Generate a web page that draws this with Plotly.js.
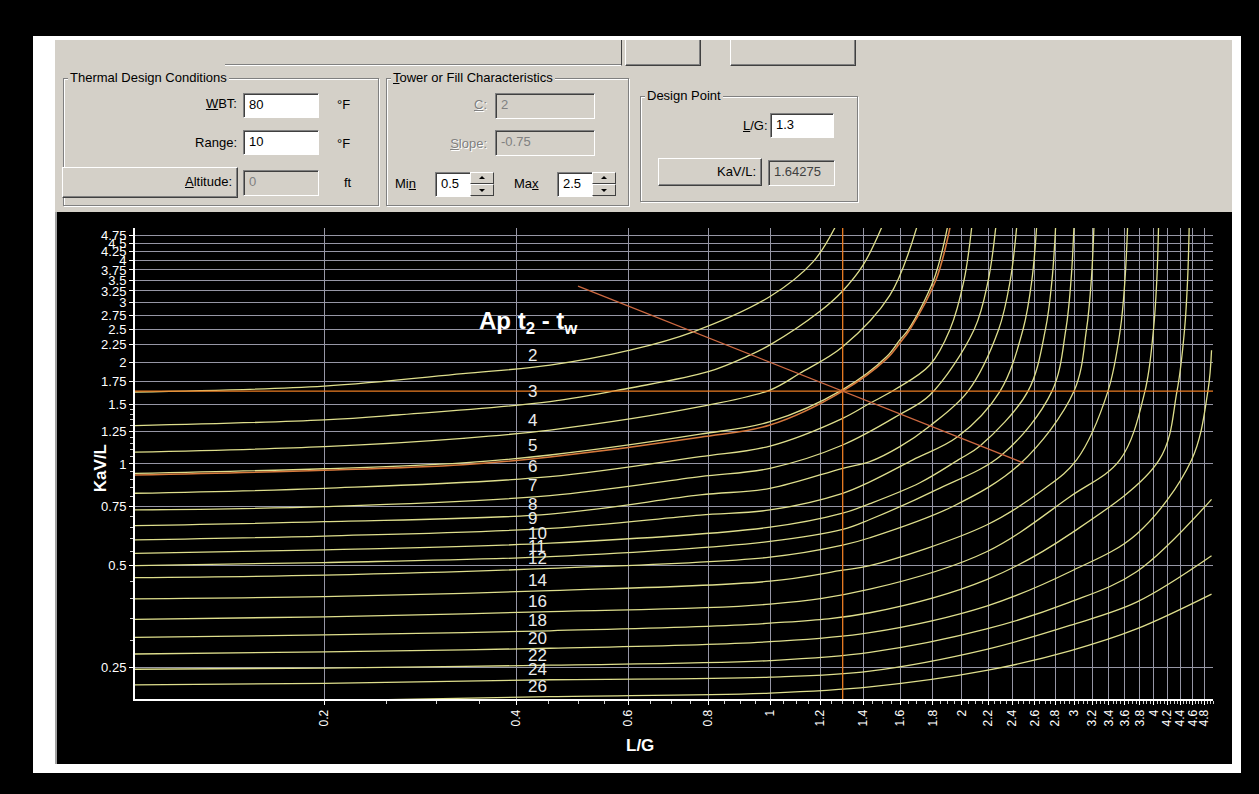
<!DOCTYPE html>
<html>
<head>
<meta charset="utf-8">
<script src="https://cdn.plot.ly/plotly-3.0.1.min.js"></script>
<style>
  html, body { margin:0; padding:0; background:#000; }
  body { width:1259px; height:794px; overflow:hidden; position:relative; font-family:"Liberation Sans", Arial, sans-serif; font-size:13px; }
  .abs { position:absolute; }
  #frame { left:33px; top:36px; width:1208px; height:737px; background:#fff; }
  #panel { left:55px; top:40px; width:1177px; height:172px; background:#d4d0c8; overflow:hidden; }
  #chartwrap { left:55px; top:212px; width:1177px; height:552px; background:#000; border-left:2px solid #a0a0a0; box-sizing:border-box; }
  #chart { left:57px; top:212px; width:1173px; height:550px; }
  .grp { position:absolute; border:1px solid #808080; box-shadow:1px 1px 0 #fff, inset 1px 1px 0 #fff; }
  .grp > .lg { position:absolute; top:-9px; left:4px; background:#d4d0c8; padding:0 2px; color:#000; white-space:nowrap; line-height:16px; }
  .lbl { position:absolute; color:#000; white-space:nowrap; line-height:16px; }
  .dis { color:#808080; text-shadow:1px 1px 0 #fff; }
  .edit { position:absolute; background:#fff; border:1px solid; border-color:#808080 #fff #fff #808080; box-shadow:inset 1px 1px 0 #404040; box-sizing:border-box; padding:3px 0 0 5px; line-height:16px; color:#000; }
  .edit.off { background:#d4d0c8; color:#808080; }
  .btn { position:absolute; background:#d4d0c8; border:1px solid; border-color:#fff #404040 #404040 #fff; box-shadow:inset -1px -1px 0 #808080; box-sizing:border-box; color:#000; line-height:16px; }
  .spin { position:absolute; width:24px; height:24px; }
  .spin .b { position:absolute; left:0; width:24px; height:12px; background:#d4d0c8; border:1px solid; border-color:#fff #404040 #404040 #fff; box-sizing:border-box; }
  .tri-up { position:absolute; left:8px; top:3px; width:0; height:0; border-left:3px solid transparent; border-right:3px solid transparent; border-bottom:3px solid #000; }
  .tri-dn { position:absolute; left:8px; top:4px; width:0; height:0; border-left:3px solid transparent; border-right:3px solid transparent; border-top:3px solid #000; }
  u { text-decoration:underline; }
</style>
</head>
<body>
<div id="frame" class="abs"></div>
<div id="panel" class="abs">
  <div class="abs" style="left:170px;top:-20px;width:396px;height:45px;border-bottom:1px solid #fff;border-right:1px solid #404040;box-shadow:inset 0 -1px 0 #808080;"></div>
  <div class="btn" style="left:570px;top:-20px;width:76px;height:46px;"></div>
  <div class="btn" style="left:675px;top:-20px;width:126px;height:46px;"></div>

  <div class="grp" style="left:8px;top:38px;width:314px;height:126px;"><span class="lg">Thermal Design Conditions</span></div>
  <div class="lbl" style="left:145px;top:56px;width:37px;text-align:right;"><u>W</u>BT:</div>
  <div class="edit" style="left:188px;top:53px;width:76px;height:25px;">80</div>
  <div class="lbl" style="left:282px;top:57px;">°F</div>
  <div class="lbl" style="left:120px;top:95px;width:62px;text-align:right;">Range:</div>
  <div class="edit" style="left:188px;top:90px;width:76px;height:25px;">10</div>
  <div class="lbl" style="left:282px;top:96px;">°F</div>
  <div class="btn" style="left:7px;top:127px;width:176px;height:31px;"><span style="position:absolute;right:5px;top:6px;"><u>A</u>ltitude:</span></div>
  <div class="edit off" style="left:188px;top:130px;width:76px;height:26px;">0</div>
  <div class="lbl" style="left:289px;top:135px;">ft</div>

  <div class="grp" style="left:331px;top:38px;width:241px;height:126px;"><span class="lg"><u>T</u>ower or Fill Characteristics</span></div>
  <div class="lbl dis" style="left:380px;top:57px;width:52px;text-align:right;"><u>C</u>:</div>
  <div class="edit off" style="left:440px;top:53px;width:100px;height:26px;">2</div>
  <div class="lbl dis" style="left:380px;top:96px;width:52px;text-align:right;"><u>S</u>lope:</div>
  <div class="edit off" style="left:440px;top:90px;width:100px;height:26px;">-0.75</div>
  <div class="lbl" style="left:340px;top:136px;">Mi<u>n</u></div>
  <div class="edit" style="left:380px;top:132px;width:36px;height:25px;">0.5</div>
  <div class="spin" style="left:415px;top:132px;"><div class="b" style="top:0"><div class="tri-up"></div></div><div class="b" style="top:12px"><div class="tri-dn"></div></div></div>
  <div class="lbl" style="left:459px;top:136px;">Ma<u>x</u></div>
  <div class="edit" style="left:502px;top:132px;width:36px;height:25px;">2.5</div>
  <div class="spin" style="left:537px;top:132px;"><div class="b" style="top:0"><div class="tri-up"></div></div><div class="b" style="top:12px"><div class="tri-dn"></div></div></div>

  <div class="grp" style="left:585px;top:56px;width:216px;height:104px;"><span class="lg">Design Point</span></div>
  <div class="lbl" style="left:688px;top:78px;"><u>L</u>/G:</div>
  <div class="edit" style="left:715px;top:73px;width:64px;height:25px;">1.3</div>
  <div class="btn" style="left:603px;top:118px;width:104px;height:28px;"><span style="position:absolute;right:5px;top:5px;">KaV/L:</span></div>
  <div class="edit off" style="left:713px;top:120px;width:67px;height:26px;color:#404040;">1.64275</div>
</div>
<div id="chartwrap" class="abs"></div>
<div id="chart" class="abs"></div>

<script>
// ---- Data (L/G vs KaV/L), one curve per approach ----
const approaches = ['2','3','4','5','6','7','8','9','10','11','12','14','16','18','20','22','24','26'];

const lg2  = [0.1, 0.2, 0.33, 0.452, 0.603, 0.758, 1.0, 1.169, 1.264];
const kv2  = [1.63, 1.70, 1.85, 1.96, 2.17, 2.46, 3.13, 3.97, 5.0];
const lg3  = [0.1, 0.2, 0.26, 0.452, 0.6, 0.8, 0.93, 1.0, 1.195, 1.3, 1.4, 1.496];
const kv3  = [1.298, 1.35, 1.396, 1.529, 1.675, 1.875, 2.10, 2.25, 2.82, 3.25, 3.88, 5.0];
const lg4  = [0.1, 0.2, 0.33, 0.452, 0.777, 1.0, 1.114, 1.3, 1.542, 1.698];
const kv4  = [1.083, 1.125, 1.191, 1.26, 1.477, 1.655, 1.855, 2.223, 3.16, 5.0];
const lg5  = [0.1, 0.2, 0.33, 0.452, 0.777, 1.0, 1.3, 1.523, 1.598, 1.649, 1.805, 1.897];
const kv5  = [0.937, 0.968, 1.008, 1.063, 1.225, 1.334, 1.66, 2.076, 2.33, 2.5, 3.5, 5.0];
const lg6  = [0.1, 0.2, 0.452, 0.777, 1.0, 1.3, 1.434, 1.57, 1.781, 1.915, 2.015, 2.071];
const kv6  = [0.819, 0.847, 0.917, 1.051, 1.13, 1.365, 1.512, 1.66, 1.963, 2.5, 3.5, 5.0];
const lg7  = [0.1, 0.2, 0.452, 0.777, 1.0, 1.3, 1.592, 1.781, 2.09, 2.199, 2.259];
const kv7  = [0.731, 0.748, 0.806, 0.917, 0.971, 1.138, 1.396, 1.6, 2.5, 3.5, 5.0];
const lg8  = [0.1, 0.2, 0.452, 0.777, 1.0, 1.3, 1.434, 1.598, 1.781, 2.043, 2.283, 2.381, 2.436];
const kv8  = [0.657, 0.675, 0.711, 0.81, 0.847, 0.971, 1.016, 1.125, 1.296, 1.64, 2.5, 3.5, 5.0];
const lg9  = [0.1, 0.2, 0.452, 0.777, 1.0, 1.3, 1.434, 1.675, 1.971, 2.294, 2.493, 2.574, 2.618];
const kv9  = [0.596, 0.612, 0.645, 0.706, 0.731, 0.819, 0.885, 1.028, 1.205, 1.64, 2.5, 3.5, 5.0];
const lg10 = [0.1, 0.2, 0.452, 1.0, 1.3, 1.434, 1.718, 1.973, 2.134, 2.537, 2.703, 2.768, 2.804];
const kv10 = [0.544, 0.557, 0.583, 0.65, 0.715, 0.763, 0.88, 1.028, 1.13, 1.64, 2.5, 3.5, 5.0];
const lg11 = [0.1, 0.2, 0.452, 1.0, 1.3, 1.434, 1.825, 2.308, 2.767, 2.91, 2.965, 2.996];
const kv11 = [0.5, 0.511, 0.532, 0.59, 0.64, 0.685, 0.84, 1.063, 1.64, 2.5, 3.5, 5.0];
const lg12 = [0.1, 0.2, 0.452, 1.0, 1.3, 1.434, 1.938, 2.465, 2.996, 3.135, 3.19, 3.22];
const kv12 = [0.461, 0.469, 0.491, 0.53, 0.575, 0.605, 0.75, 1.0, 1.64, 2.5, 3.5, 5.0];
const lg14 = [0.1, 0.2, 0.452, 1.0, 1.3, 1.434, 2.186, 2.682, 3.025, 3.387, 3.542, 3.602, 3.636];
const kv14 = [0.399, 0.405, 0.422, 0.45, 0.485, 0.50, 0.66, 0.84, 1.028, 1.64, 2.5, 3.5, 5.0];
const lg16 = [0.1, 0.2, 0.452, 1.0, 1.434, 2.186, 2.953, 3.537, 3.871, 3.993, 4.041, 4.066];
const kv16 = [0.347, 0.353, 0.366, 0.385, 0.426, 0.55, 0.80, 1.028, 1.64, 2.5, 3.5, 5.0];
const lg18 = [0.1, 0.2, 0.452, 1.0, 1.434, 2.186, 2.953, 4.076, 4.346, 4.467, 4.516, 4.542];
const kv18 = [0.307, 0.312, 0.321, 0.338, 0.363, 0.455, 0.62, 1.028, 1.64, 2.5, 3.5, 5.0];
const lg20 = [0.1, 0.2, 0.452, 1.0, 1.434, 2.186, 2.953, 3.756, 4.581, 4.859, 4.924];
const kv20 = [0.274, 0.278, 0.285, 0.298, 0.317, 0.38, 0.48, 0.62, 1.028, 1.64, 2.17];
const lg22 = [0.1, 0.2, 0.452, 1.0, 1.434, 2.186, 2.953, 3.756, 4.924];
const kv22 = [0.247, 0.249, 0.254, 0.262, 0.277, 0.325, 0.39, 0.48, 0.786];
const lg24 = [0.1, 0.2, 0.452, 1.0, 1.434, 2.186, 2.953, 3.756, 4.924];
const kv24 = [0.222, 0.2245, 0.23, 0.234, 0.244, 0.283, 0.333, 0.39, 0.535];
const lg26 = [0.225, 0.452, 1.0, 1.434, 2.186, 2.953, 3.756, 4.924];
const kv26 = [0.2, 0.205, 0.210, 0.219, 0.245, 0.28, 0.325, 0.412];

// design-approach curve (orange) through the design point
const lgDesign = [0.1, 0.2, 0.33, 0.452, 0.777, 1.0, 1.3, 1.523, 1.598, 1.657, 1.82, 1.915];
const kvDesign = [0.927, 0.958, 0.995, 1.049, 1.2, 1.304, 1.643, 2.045, 2.28, 2.5, 3.5, 5.0];

// tower characteristic line (C = 2, slope -0.75, from Min 0.5 to Max 2.5)
const lgChar = [0.5, 2.5];
const kvChar = [3.36, 1.006];

// design point
const designLG = 1.3;
const designKaVL = 1.64275;

// axis ticks
const xTickVals = [0.2,0.4,0.6,0.8,1,1.2,1.4,1.6,1.8,2,2.2,2.4,2.6,2.8,3,3.2,3.4,3.6,3.8,4,4.2,4.4,4.6,4.8];
const xTickText = ['0.2','0.4','0.6','0.8','1','1.2','1.4','1.6','1.8','2','2.2','2.4','2.6','2.8','3','3.2','3.4','3.6','3.8','4','4.2','4.4','4.6','4.8'];
const yTickVals = [0.25,0.5,0.75,1,1.25,1.5,1.75,2,2.25,2.5,2.75,3,3.25,3.5,3.75,4,4.25,4.5,4.75];
const yTickText = ['0.25','0.5','0.75','1','1.25','1.5','1.75','2','2.25','2.5','2.75','3','3.25','3.5','3.75','4','4.25','4.5','4.75'];

// ---- build ----
const curveLG = [lg2,lg3,lg4,lg5,lg6,lg7,lg8,lg9,lg10,lg11,lg12,lg14,lg16,lg18,lg20,lg22,lg24,lg26];
const curveKV = [kv2,kv3,kv4,kv5,kv6,kv7,kv8,kv9,kv10,kv11,kv12,kv14,kv16,kv18,kv20,kv22,kv24,kv26];

const YELLOW = 'rgb(222,222,140)';
const traces = [];
curveLG.forEach((xs, i) => {
  traces.push({ x: xs, y: curveKV[i], type:'scatter', mode:'lines',
    line:{ color: YELLOW, width:1.3, shape:'spline', smoothing:1.0 }, hoverinfo:'skip' });
});
traces.push({ x: lgDesign, y: kvDesign, type:'scatter', mode:'lines',
  line:{ color:'rgb(214,120,60)', width:1.6, shape:'spline', smoothing:1.0 }, hoverinfo:'skip' });
traces.push({ x: [0.1, 5], y: [designKaVL, designKaVL], type:'scatter', mode:'lines',
  line:{ color:'rgb(235,125,35)', width:1.3 }, hoverinfo:'skip' });
traces.push({ x: [designLG, designLG], y: [0.2, 5], type:'scatter', mode:'lines',
  line:{ color:'rgb(235,125,35)', width:1.3 }, hoverinfo:'skip' });
traces.push({ x: lgChar, y: kvChar, type:'scatter', mode:'lines',
  line:{ color:'rgb(205,105,65)', width:1.3 }, hoverinfo:'skip' });

// minor tick positions (axis styling)
const xMinor = [];
for (let k = 5; k <= 99; k++) { const v = k * 0.05; if (k % 4 !== 0) xMinor.push(+v.toFixed(2)); }
const yMinor = [];
for (let k = 5; k <= 29; k++) { const v = k * 0.05; if (k % 5 !== 0) yMinor.push(+v.toFixed(2)); }

const FONT = 'Liberation Sans, Arial, sans-serif';
const annotations = [];
approaches.forEach((a, i) => {
  const idx = curveLG[i].indexOf(0.452);
  annotations.push({ xref:'x', yref:'y', x: Math.log10(0.415), y: Math.log10(curveKV[i][idx]),
    text: a, showarrow:false, xanchor:'left', yanchor:'middle', yshift:10,
    font:{ family:FONT, size:17, color:'#ececec' } });
});
annotations.push({ xref:'x', yref:'y', x: Math.log10(0.347), y: Math.log10(2.63),
  text:'<b>Ap t<sub>2</sub> - t<sub>w</sub></b>', showarrow:false, xanchor:'left', yanchor:'middle',
  font:{ family:FONT, size:24, color:'#ffffff' } });
annotations.push({ xref:'paper', yref:'paper', x:-0.0325, y:0.49, text:'<b>KaV/L</b>', textangle:-90,
  showarrow:false, xanchor:'center', yanchor:'middle', font:{ family:FONT, size:17, color:'#ffffff' } });
annotations.push({ xref:'paper', yref:'paper', x:0.468, y:-0.098, text:'<b>L/G</b>',
  showarrow:false, xanchor:'center', yanchor:'middle', font:{ family:FONT, size:17, color:'#ffffff' } });

const GRID = 'rgb(150,150,165)';
const layout = {
  width:1173, height:550,
  margin:{ l:78, r:17, t:16, b:63 },
  paper_bgcolor:'#000', plot_bgcolor:'#000',
  showlegend:false,
  xaxis:{ type:'log', range:[Math.log10(0.101), Math.log10(4.95)],
    tickmode:'array', tickvals:xTickVals, ticktext:xTickText, tickangle:-90,
    tickfont:{ family:FONT, size:12, color:'#ffffff' },
    showgrid:true, gridcolor:GRID, gridwidth:1, zeroline:false,
    showline:true, linecolor:'#ffffff', linewidth:2,
    ticks:'outside', ticklen:4, tickcolor:'#ffffff',
    minor:{ tickmode:'array', tickvals:xMinor, ticks:'outside', ticklen:3, tickcolor:'#d0d0d0', showgrid:false } },
  yaxis:{ type:'log', range:[Math.log10(0.2017), Math.log10(4.99)],
    tickmode:'array', tickvals:yTickVals, ticktext:yTickText,
    tickfont:{ family:FONT, size:13, color:'#ffffff' },
    showgrid:true, gridcolor:GRID, gridwidth:1, zeroline:false,
    showline:true, linecolor:'#ffffff', linewidth:2,
    ticks:'outside', ticklen:4, tickcolor:'#ffffff',
    minor:{ tickmode:'array', tickvals:yMinor, ticks:'outside', ticklen:3, tickcolor:'#d0d0d0', showgrid:false } },
  annotations: annotations
};

Plotly.newPlot('chart', traces, layout, { displayModeBar:false, staticPlot:true });
</script>
</body>
</html>
